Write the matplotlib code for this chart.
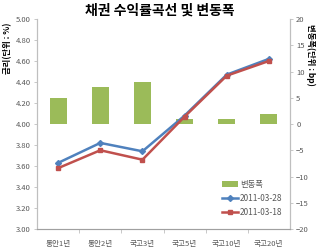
import matplotlib
matplotlib.use("Agg")
from matplotlib import pyplot as plt
import numpy as np

plt.rcParams['font.family'] = ['Noto Sans CJK KR', 'DejaVu Sans']

# data
categories = ['통안1년', '통안2년', '국고3년', '국고5년', '국고10년', '국고20년']
change_bp = [5, 7, 8, 1, 1, 2]
rate_0328 = [3.63, 3.82, 3.74, 4.08, 4.47, 4.62]
rate_0318 = [3.58, 3.75, 3.66, 4.07, 4.46, 4.60]

green = '#9BBB59'
blue = '#4F81BD'
red = '#C0504D'
tickc = '#595959'

fig = plt.figure(figsize=(3.2, 2.5), dpi=100)
ax = fig.add_axes([0.116, 0.084, 0.79, 0.84])
ax2 = ax.twinx()

x = np.arange(len(categories))

# bars on right axis
b = ax2.bar(x, change_bp, width=0.4, color=green, label='변동폭', zorder=1)
ax2.set_ylim(-20, 20)
ax2.set_yticks(range(-20, 21, 5))

l1, = ax.plot(x, rate_0328, color=blue, marker='D', markersize=3, lw=1.8, label='2011-03-28', zorder=3)
l2, = ax.plot(x, rate_0318, color=red, marker='s', markersize=3.5, lw=1.8, label='2011-03-18', zorder=3)
ax.set_ylim(3.0, 5.0)
ax.set_yticks(np.arange(3.0, 5.01, 0.2))
ax.set_yticklabels([f'{v:.2f}' for v in np.arange(3.0, 5.01, 0.2)])
ax.set_xlim(-0.5, len(categories) - 0.5)
ax.set_xticks(x)
ax.set_xticklabels(categories)
ax.set_xticks(np.arange(0.5, len(categories) - 1, 1), minor=True)

# lines above bars
ax.set_zorder(ax2.get_zorder() + 1)
ax.patch.set_visible(False)

for a in (ax, ax2):
    a.spines['top'].set_visible(False)
    for s in ('left', 'right', 'bottom'):
        a.spines[s].set_color('#BFBFBF')
        a.spines[s].set_linewidth(0.8)
    a.tick_params(labelsize=5.5, colors=tickc, length=2.5, width=0.6, pad=2)
    a.tick_params(axis='y', color='#BFBFBF')
ax.tick_params(axis='x', which='major', length=0, pad=8)
ax.tick_params(axis='x', which='minor', length=3, color='#BFBFBF')
ax.spines['bottom'].set_color('#A0A0A0')

ax.set_ylabel('금리(단위 : %)', fontsize=6, fontweight='bold')
ax2.set_ylabel('변동폭(단위 : bp)', fontsize=6, fontweight='bold', rotation=-90)
ax.yaxis.set_label_coords(-0.1, 0.86)
ax2.yaxis.set_label_coords(1.1, 0.83)

fig.suptitle('채권 수익률곡선 및 변동폭', fontsize=10, fontweight='bold', y=0.985)

leg = ax.legend([b, l1, l2], ['변동폭', '2011-03-28', '2011-03-18'],
                loc='lower right', bbox_to_anchor=(1.0, 0.02), frameon=False,
                fontsize=6, handlelength=2, labelspacing=0.6, handletextpad=0.2,
                labelcolor=tickc)

fig.savefig('out.png', dpi=100)
